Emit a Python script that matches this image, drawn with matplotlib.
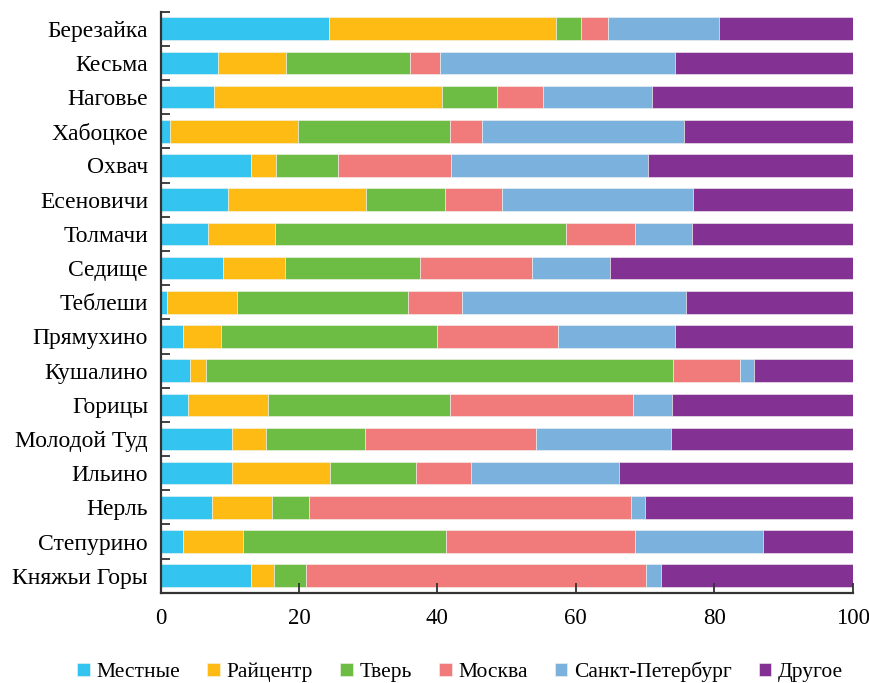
import numpy as np
from matplotlib import pyplot as plt
from matplotlib.ticker import FixedLocator

plt.rcParams['font.family'] = ['Liberation Serif', 'DejaVu Serif']

# деревни (сверху вниз)
villages = ['Березайка', 'Кесьма', 'Наговье', 'Хабоцкое', 'Охвач', 'Есеновичи',
            'Толмачи', 'Седище', 'Теблеши', 'Прямухино', 'Кушалино', 'Горицы',
            'Молодой Туд', 'Ильино', 'Нерль', 'Степурино', 'Княжьи Горы']

series_names = ['Местные', 'Райцентр', 'Тверь', 'Москва', 'Санкт-Петербург', 'Другое']

mestnye = [24.3, 8.3, 7.7, 1.4, 13.1, 9.8, 6.8, 9.0, 0.9, 3.2, 4.2, 4.0, 10.3, 10.3, 7.4, 3.2, 13.1]
raicentr = [32.8, 9.9, 33.0, 18.4, 3.6, 19.9, 9.7, 9.0, 10.2, 5.6, 2.3, 11.6, 4.9, 14.2, 8.7, 8.7, 3.3]
tver = [3.7, 17.8, 7.9, 22.1, 9.0, 11.4, 42.1, 19.5, 24.6, 31.2, 67.6, 26.2, 14.4, 12.4, 5.4, 29.4, 4.6]
moskva = [3.9, 4.4, 6.7, 4.6, 16.3, 8.2, 9.9, 16.2, 7.8, 17.4, 9.6, 26.4, 24.7, 7.9, 46.5, 27.2, 49.1]
spb = [16.0, 34.0, 15.7, 29.1, 28.5, 27.6, 8.3, 11.3, 32.5, 17.0, 2.1, 5.7, 19.5, 21.4, 2.0, 18.5, 2.2]
drugoe = [19.3, 25.6, 29.0, 24.4, 29.5, 23.1, 23.2, 35.0, 24.0, 25.6, 14.2, 26.1, 26.2, 33.8, 30.0, 13.0, 27.7]

colors = ['#33c4f0', '#fdbb14', '#6dbd45', '#f17a7a', '#7bb1dd', '#833193']

fig = plt.figure(figsize=(8.7, 6.83), dpi=100)
ax = fig.add_axes([0.1845, 0.132, 0.7955, 0.851])

y = np.arange(len(villages))
left = np.zeros(len(villages))
for name, vals, c in zip(series_names, [mestnye, raicentr, tver, moskva, spb, drugoe], colors):
    ax.barh(y, vals, left=left, height=0.66, color=c, label=name,
            edgecolor='#f4f4f0', linewidth=0.4)
    left = left + np.array(vals)

ax.set_ylim(len(villages) - 0.5, -0.5)
ax.set_xlim(0, 100)
ax.set_yticks(y)
ax.set_yticklabels(villages, fontsize=17)
ax.yaxis.set_minor_locator(FixedLocator(np.arange(-0.5, len(villages), 1.0)))
ax.tick_params(axis='y', which='major', length=0, pad=9)
ax.tick_params(axis='y', which='minor', direction='in', length=6.5, width=1.3, color='#333333')
ax.set_xticks([0, 20, 40, 60, 80, 100])
ax.tick_params(axis='x', direction='in', length=7, width=1.3, color='#333333', labelsize=16.5, pad=11)

for s in ['top', 'right']:
    ax.spines[s].set_visible(False)
for s in ['left', 'bottom']:
    ax.spines[s].set_linewidth(1.6)
    ax.spines[s].set_color('#333333')

fig.legend(loc='lower center', bbox_to_anchor=(0.529, -0.027), ncol=6, frameon=False,
           fontsize=15.5, handlelength=0.6, handleheight=0.6, handletextpad=0.3,
           columnspacing=1.25)

fig.savefig('out.png', dpi=100)
